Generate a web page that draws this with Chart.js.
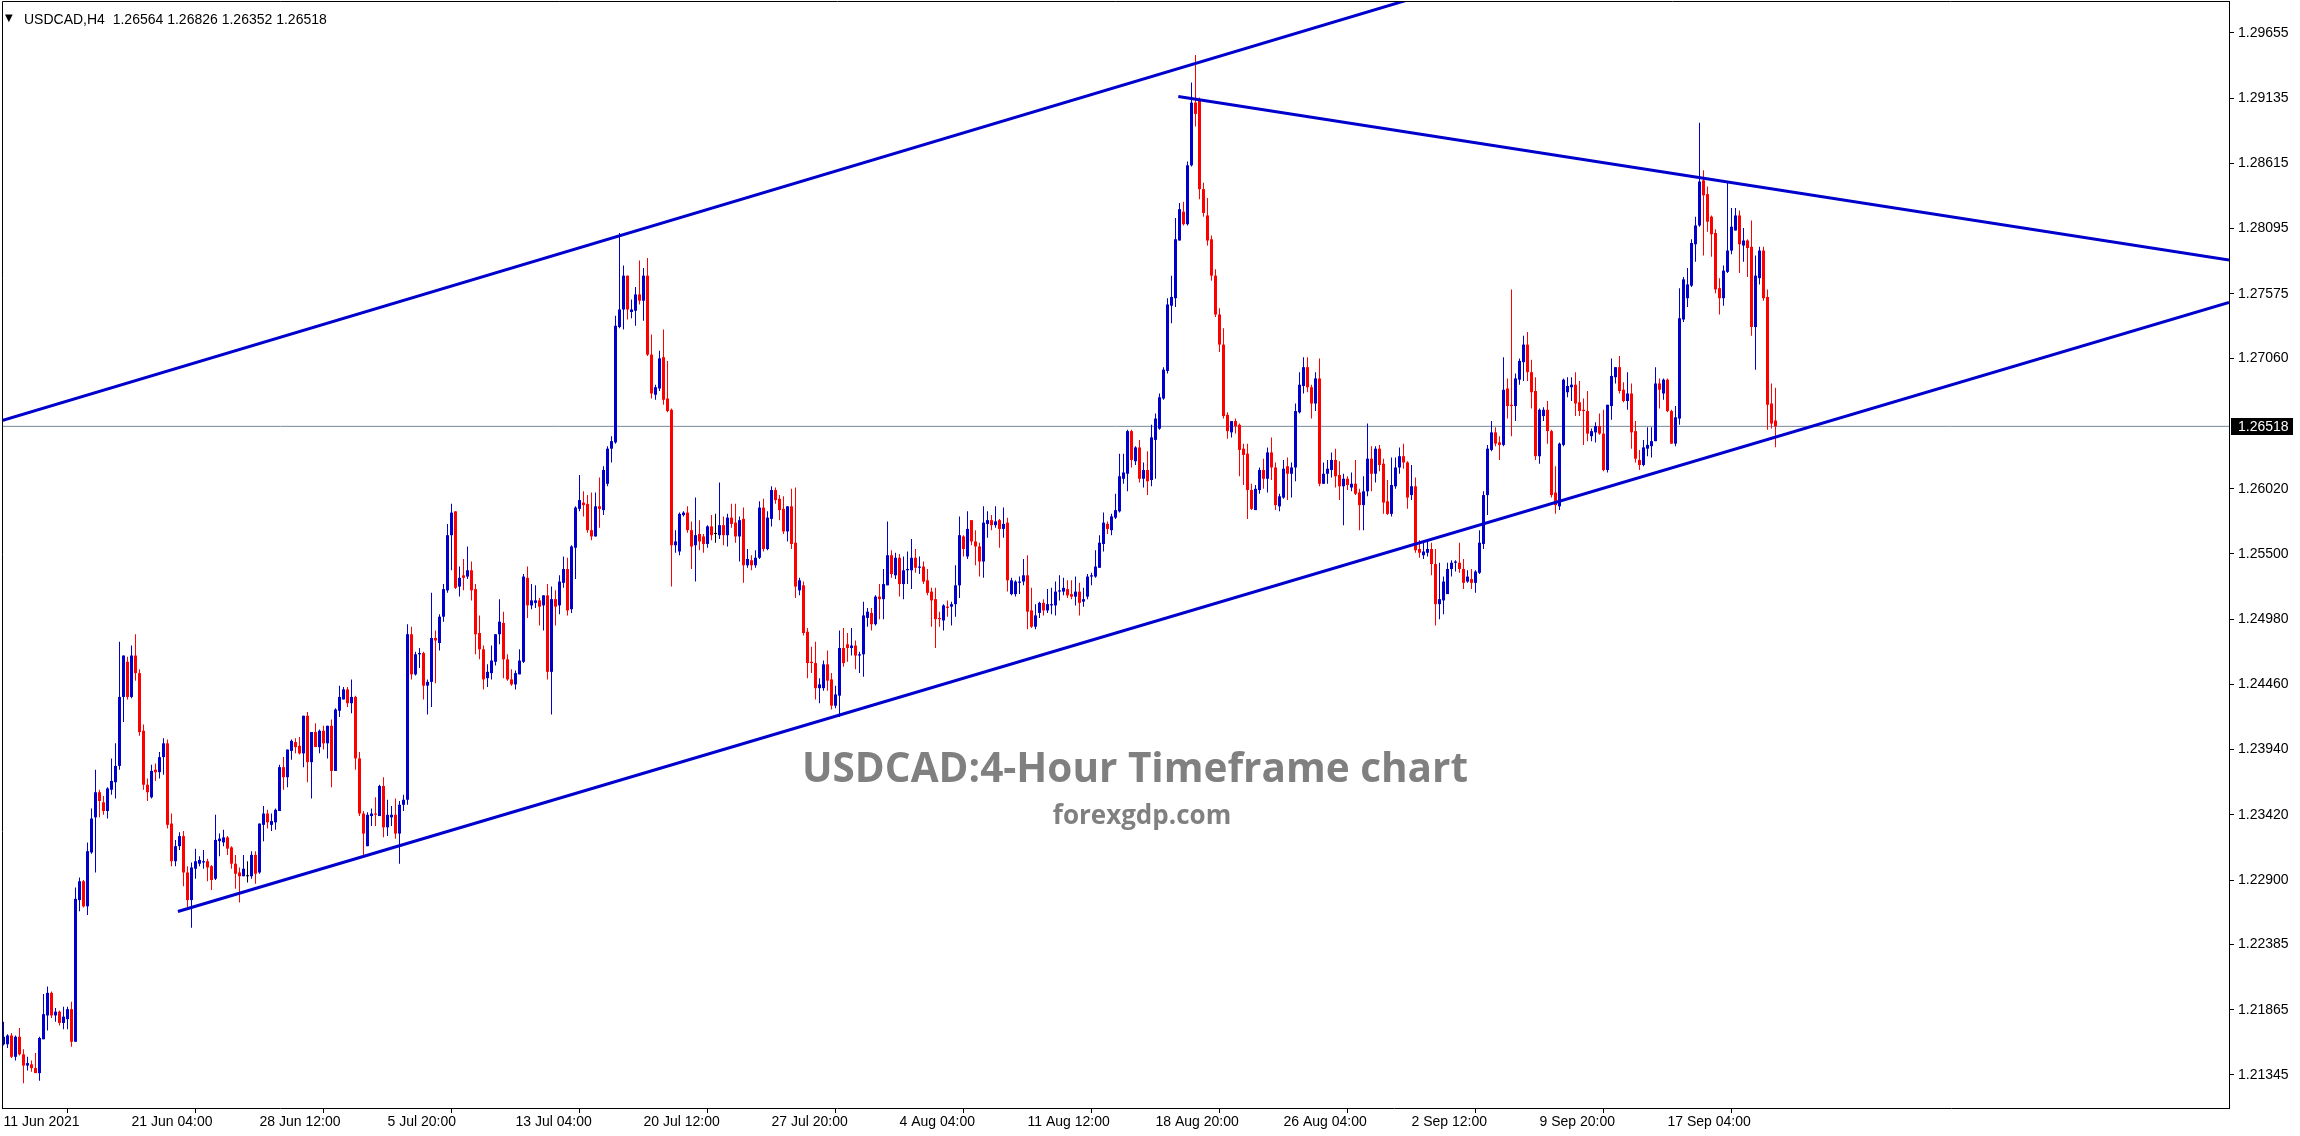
<!DOCTYPE html>
<html>
<head>
<meta charset="utf-8">
<script src="https://cdn.jsdelivr.net/npm/chart.js@4/dist/chart.umd.min.js"></script>
<style>
html,body{margin:0;padding:0;background:#fff;}
#wrap{position:relative;width:2300px;height:1136px;}
canvas{display:block;}
</style>
</head>
<body>
<div id="wrap"><canvas id="c" width="2300" height="1136"></canvas></div>
<script>
// ---------- values (prices in pips, 1 pip = 0.0001) ----------
const PIP = 0.0001;
const symbolLabel = 'USDCAD,H4';

const candleOpen = [
12159,12159,12166,12149,12165,12151,12142,12143,12140,12136,
12163,12182,12200,12182,12185,12176,12179,12187,12161,12274,
12289,12269,12312,12340,12360,12352,12345,12362,12368,12381,
12436,12464,12436,12469,12455,12409,12366,12356,12378,12376,
12388,12399,12335,12305,12317,12325,12296,12274,12299,12303,
12304,12305,12301,12291,12321,12320,12324,12316,12303,12296,
12293,12293,12293,12310,12296,12334,12343,12334,12336,12345,
12380,12372,12393,12400,12397,12391,12421,12384,12408,12396,
12409,12399,12413,12377,12425,12434,12442,12431,12436,12387,
12343,12317,12341,12343,12341,12365,12332,12340,12342,12327,
12350,12354,12486,12454,12470,12471,12445,12448,12483,12479,
12500,12521,12565,12584,12524,12533,12532,12537,12522,12487,
12474,12451,12455,12464,12486,12495,12466,12450,12446,12454,
12464,12531,12509,12511,12513,12509,12517,12456,12514,12509,
12527,12538,12506,12555,12586,12591,12590,12569,12564,12588,
12585,12606,12634,12639,12731,12745,12772,12743,12744,12757,
12752,12772,12709,12677,12682,12707,12674,12665,12557,12552,
12581,12583,12569,12557,12566,12564,12558,12572,12566,12565,
12573,12565,12579,12575,12564,12578,12541,12545,12541,12547,
12587,12554,12578,12601,12594,12586,12568,12588,12559,12521,
12525,12488,12464,12463,12443,12443,12462,12450,12429,12437,
12475,12478,12475,12477,12469,12470,12499,12503,12494,12516,
12514,12525,12549,12533,12547,12526,12537,12537,12547,12539,
12540,12529,12520,12514,12499,12497,12508,12508,12510,12525,
12564,12548,12577,12560,12556,12544,12574,12577,12573,12577,
12570,12575,12518,12518,12527,12528,12533,12505,12492,12503,
12511,12505,12509,12509,12520,12520,12522,12518,12516,12520,
12512,12516,12532,12532,12539,12558,12574,12569,12579,12584,
12610,12614,12648,12624,12635,12610,12617,12609,12641,12650,
12674,12696,12748,12754,12800,12823,12813,12860,12910,12912,
12841,12820,12801,12772,12741,12717,12661,12647,12656,12653,
12634,12630,12601,12585,12601,12617,12610,12631,12619,12588,
12595,12620,12614,12619,12663,12684,12699,12683,12670,12690,
12606,12614,12617,12625,12613,12604,12610,12603,12606,12599,
12589,12600,12626,12614,12634,12622,12592,12582,12604,12619,
12628,12623,12597,12604,12554,12549,12551,12554,12542,12510,
12513,12518,12538,12543,12543,12538,12528,12530,12527,12535,
12558,12597,12633,12647,12639,12637,12682,12669,12668,12689,
12703,12717,12695,12680,12628,12660,12665,12648,12599,12588,
12637,12679,12683,12685,12671,12665,12664,12644,12647,12652,
12646,12617,12668,12691,12699,12681,12672,12678,12648,12625,
12621,12634,12636,12640,12686,12678,12689,12664,12638,12658,
12737,12754,12764,12797,12812,12848,12837,12819,12806,12762,
12754,12775,12792,12808,12820,12796,12800,12795,12731,12770,
12792,12755,12670,12656.4
];

const candleHigh = [
12177,12167,12168,12166,12172,12155,12149,12146,12152,12165,
12199,12205,12201,12188,12186,12189,12189,12193,12284,12292,
12290,12320,12347,12378,12362,12357,12364,12387,12399,12480,
12469,12468,12477,12486,12458,12414,12371,12382,12383,12392,
12403,12402,12343,12322,12328,12329,12301,12304,12315,12309,
12314,12307,12302,12342,12327,12330,12325,12317,12310,12300,
12310,12305,12313,12313,12335,12349,12346,12343,12347,12382,
12388,12394,12402,12403,12404,12421,12424,12408,12415,12410,
12413,12413,12418,12427,12445,12444,12444,12450,12437,12392,
12345,12344,12347,12356,12366,12372,12354,12349,12355,12353,
12358,12494,12492,12472,12475,12472,12450,12519,12489,12502,
12526,12574,12590,12584,12540,12546,12556,12544,12526,12501,
12477,12462,12477,12486,12514,12504,12470,12458,12457,12474,
12534,12540,12526,12525,12515,12517,12526,12524,12521,12533,
12548,12547,12557,12588,12613,12600,12597,12599,12599,12611,
12620,12636,12644,12740,12806,12780,12772,12753,12763,12784,
12778,12786,12725,12685,12712,12729,12704,12666,12569,12583,
12584,12588,12576,12595,12577,12566,12573,12581,12582,12607,
12580,12582,12590,12590,12580,12587,12554,12549,12553,12592,
12594,12584,12604,12603,12597,12596,12588,12602,12603,12531,
12528,12491,12476,12480,12451,12465,12473,12455,12445,12489,
12491,12487,12491,12481,12472,12512,12507,12507,12517,12526,
12538,12576,12553,12551,12550,12548,12552,12562,12554,12548,
12544,12538,12523,12523,12504,12510,12513,12512,12541,12580,
12565,12584,12577,12569,12559,12588,12584,12581,12588,12578,
12587,12579,12531,12529,12532,12546,12549,12523,12510,12512,
12514,12522,12523,12528,12533,12531,12529,12529,12532,12527,
12523,12534,12535,12553,12565,12583,12576,12582,12598,12630,
12630,12649,12649,12636,12641,12623,12632,12653,12662,12678,
12699,12754,12772,12818,12830,12831,12863,12926,12948,12914,
12846,12834,12804,12777,12746,12730,12663,12656,12658,12654,
12638,12638,12606,12605,12619,12626,12635,12643,12623,12598,
12625,12627,12623,12670,12695,12707,12707,12685,12695,12706,
12623,12625,12631,12634,12624,12614,12612,12615,12625,12602,
12612,12654,12636,12636,12637,12626,12609,12627,12627,12635,
12638,12624,12621,12611,12561,12559,12561,12559,12554,12543,
12532,12543,12545,12545,12559,12546,12537,12538,12537,12569,
12600,12637,12656,12651,12644,12707,12690,12761,12694,12706,
12724,12727,12705,12691,12666,12667,12672,12649,12620,12639,
12690,12691,12691,12695,12688,12674,12680,12650,12655,12662,
12665,12669,12706,12699,12708,12687,12695,12686,12656,12633,
12641,12651,12651,12699,12690,12690,12690,12665,12668,12762,
12771,12778,12801,12819,12894,12856,12843,12820,12809,12770,
12780,12847,12826,12826,12824,12810,12801,12816,12788,12795,
12795,12761,12686,12682.6
];

const candleLow = [
12158,12156,12148,12146,12150,12128,12138,12137,12136,12130,
12163,12170,12180,12177,12174,12171,12171,12157,12161,12265,
12268,12262,12311,12296,12340,12342,12339,12358,12355,12378,
12416,12434,12435,12449,12405,12362,12353,12355,12369,12371,
12374,12331,12301,12301,12314,12285,12267,12252,12291,12301,
12299,12289,12282,12290,12309,12317,12310,12299,12283,12272,
12293,12288,12291,12287,12295,12321,12331,12329,12330,12345,
12362,12364,12386,12391,12390,12380,12368,12355,12396,12391,
12394,12387,12364,12377,12420,12434,12428,12423,12378,12341,
12309,12317,12333,12333,12341,12324,12325,12333,12323,12303,
12345,12350,12450,12453,12459,12434,12422,12428,12447,12473,
12496,12519,12537,12522,12516,12521,12530,12513,12470,12466,
12442,12444,12450,12461,12478,12451,12449,12445,12442,12454,
12463,12499,12506,12507,12493,12489,12450,12422,12493,12502,
12523,12501,12503,12530,12584,12580,12567,12561,12564,12571,
12581,12604,12623,12638,12730,12729,12737,12738,12732,12749,
12736,12708,12674,12673,12680,12669,12663,12524,12551,12549,
12580,12567,12538,12528,12553,12551,12555,12561,12559,12562,
12557,12556,12571,12559,12544,12527,12539,12537,12539,12546,
12552,12553,12572,12590,12577,12566,12560,12554,12515,12517,
12485,12451,12455,12434,12431,12441,12441,12426,12427,12420,
12460,12464,12469,12458,12455,12452,12492,12489,12493,12498,
12498,12525,12531,12530,12516,12514,12526,12522,12535,12534,
12526,12517,12492,12475,12492,12489,12500,12493,12500,12515,
12548,12546,12557,12541,12532,12531,12563,12569,12571,12555,
12563,12520,12517,12516,12518,12525,12490,12491,12490,12499,
12501,12503,12502,12501,12513,12517,12515,12514,12509,12501,
12508,12514,12525,12531,12539,12552,12566,12565,12578,12583,
12606,12600,12619,12621,12607,12603,12597,12604,12610,12649,
12673,12694,12734,12747,12800,12812,12812,12859,12891,12833,
12819,12796,12768,12739,12711,12658,12642,12643,12646,12612,
12605,12578,12585,12585,12598,12602,12599,12609,12585,12584,
12594,12593,12595,12608,12662,12678,12679,12658,12664,12604,
12606,12606,12611,12603,12593,12573,12601,12600,12597,12569,
12569,12596,12600,12607,12616,12582,12581,12580,12602,12614,
12618,12586,12593,12551,12547,12546,12548,12533,12493,12498,
12502,12518,12532,12536,12535,12522,12527,12522,12519,12534,
12554,12581,12632,12636,12625,12636,12658,12644,12656,12685,
12688,12688,12666,12625,12622,12656,12638,12595,12582,12585,
12636,12675,12672,12660,12660,12637,12640,12640,12639,12645,
12616,12615,12657,12686,12678,12671,12665,12634,12623,12617,
12620,12628,12627,12640,12666,12673,12663,12638,12636,12653,
12735,12747,12763,12783,12811,12788,12807,12787,12758,12741,
12748,12774,12789,12808,12774,12783,12771,12724,12697,12765,
12752,12649,12650,12635.2
];

const candleClose = [
12165,12166,12149,12165,12151,12142,12144,12140,12136,12164,
12183,12200,12182,12185,12176,12181,12187,12161,12275,12289,
12269,12313,12339,12360,12353,12345,12363,12369,12381,12436,
12469,12436,12469,12455,12408,12366,12360,12377,12376,12388,
12399,12334,12305,12317,12325,12296,12274,12300,12305,12306,
12305,12300,12290,12322,12323,12324,12315,12303,12295,12293,
12299,12293,12310,12295,12335,12343,12336,12337,12346,12380,
12372,12394,12401,12396,12391,12421,12384,12408,12396,12409,
12399,12413,12377,12426,12436,12442,12431,12436,12387,12343,
12327,12342,12343,12342,12365,12332,12342,12342,12327,12350,
12354,12486,12454,12470,12471,12445,12448,12483,12481,12500,
12522,12565,12583,12523,12531,12531,12537,12521,12486,12474,
12450,12456,12465,12486,12496,12466,12450,12446,12455,12465,
12532,12509,12513,12513,12508,12517,12456,12514,12508,12528,
12538,12505,12556,12587,12593,12589,12569,12564,12588,12586,
12617,12634,12640,12732,12745,12772,12745,12745,12757,12752,
12772,12709,12678,12683,12706,12673,12664,12557,12560,12582,
12583,12569,12556,12565,12560,12558,12572,12565,12566,12573,
12565,12579,12574,12564,12577,12541,12546,12541,12547,12587,
12554,12579,12601,12593,12585,12568,12588,12558,12524,12529,
12487,12463,12463,12443,12446,12462,12449,12429,12438,12475,
12463,12475,12477,12469,12470,12501,12504,12494,12516,12514,
12526,12549,12534,12547,12526,12537,12538,12547,12539,12540,
12528,12519,12513,12498,12498,12509,12507,12510,12525,12565,
12554,12570,12560,12556,12544,12575,12577,12573,12576,12570,
12574,12529,12529,12528,12528,12533,12504,12492,12501,12511,
12505,12510,12510,12520,12521,12523,12517,12516,12520,12511,
12514,12532,12533,12540,12559,12575,12570,12580,12585,12612,
12615,12648,12625,12635,12610,12617,12608,12643,12658,12675,
12697,12749,12755,12801,12825,12813,12860,12910,12901,12841,
12822,12800,12772,12741,12717,12660,12648,12656,12652,12633,
12629,12601,12586,12602,12617,12610,12631,12619,12589,12596,
12618,12614,12619,12664,12685,12699,12683,12670,12690,12606,
12614,12618,12625,12612,12604,12610,12605,12606,12598,12589,
12600,12626,12614,12634,12621,12591,12582,12605,12619,12628,
12623,12595,12604,12553,12551,12552,12554,12542,12510,12514,
12528,12538,12543,12544,12538,12527,12532,12527,12536,12559,
12597,12634,12647,12638,12637,12681,12668,12668,12690,12704,
12717,12695,12679,12628,12665,12665,12648,12597,12589,12638,
12689,12684,12685,12670,12664,12664,12646,12648,12652,12646,
12617,12669,12692,12699,12680,12672,12678,12647,12626,12621,
12635,12637,12640,12686,12681,12689,12664,12638,12659,12738,
12769,12765,12798,12812,12847,12836,12815,12805,12761,12754,
12776,12792,12811,12820,12797,12800,12794,12731,12772,12792,
12754,12669,12654,12651.8
];

// time axis labels (bar index where each label sits)
const xTickIdx = [0,32,64,96,128,160,192,224,256,288,320,352,384,416];
const xTickLabels = ['11 Jun 2021','21 Jun 04:00','28 Jun 12:00','5 Jul 20:00','13 Jul 04:00',
  '20 Jul 12:00','27 Jul 20:00','4 Aug 04:00','11 Aug 12:00','18 Aug 20:00','26 Aug 04:00',
  '2 Sep 12:00','9 Sep 20:00','17 Sep 04:00'];

// price axis labels
const yTickValues = [1.29655,1.29135,1.28615,1.28095,1.27575,1.27060,1.26020,1.25500,
  1.24980,1.24460,1.23940,1.23420,1.22900,1.22385,1.21865,1.21345];

const bidPrice = 1.26518;

// drawn trend lines: [barIndex, price in pips]
const upperChannel = [[-0.375, 12656.5],[380, 13019.5]];
const lowerChannel = [[43.6, 12264.9],[556.375, 12750.6]];
const fallingLine  = [[293.7, 12914.8],[556.375, 12784.5]];

const watermarkTitle = 'USDCAD:4-Hour Timeframe chart';
const watermarkSite = 'forexgdp.com';

// ---------- view ----------
const X_MIN = -0.375, X_MAX = 556.375;
const Y_MIN = 1.210817, Y_MAX = 1.299102;
const BULL = '#0000CD', BEAR = '#FF0000', DOJI = '#000000';
const AXIS_FONT = {family: 'Liberation Sans', size: 14};

const n = candleClose.length;
if ([candleOpen.length, candleHigh.length, candleLow.length].some(l => l !== n)) {
  throw new Error('length mismatch ' + [candleOpen.length, candleHigh.length, candleLow.length, n].join(','));
}
const idx = candleClose.map((_, i) => i);
const colors = idx.map(i => candleClose[i] > candleOpen[i] ? BULL : (candleClose[i] < candleOpen[i] ? BEAR : DOJI));
const wickData = idx.map(i => ({x: i, y: [Math.min(candleLow[i], candleOpen[i], candleClose[i]) * PIP,
                                          Math.max(candleHigh[i], candleOpen[i], candleClose[i]) * PIP]}));
const bodyData = idx.map(i => ({x: i, y: [candleOpen[i] * PIP, candleClose[i] * PIP]}));
const toPts = arr => arr.map(p => ({x: p[0], y: p[1] * PIP}));

const decorPlugin = {
  id: 'decor',
  beforeDraw(chart) {
    const ctx = chart.ctx;
    ctx.save();
    ctx.fillStyle = '#fff';
    ctx.fillRect(0, 0, chart.width, chart.height);
    ctx.restore();
  },
  beforeDatasetsDraw(chart) {
    const ctx = chart.ctx;
    ctx.save();
    ctx.fillStyle = '#808080';
    ctx.textAlign = 'center';
    ctx.textBaseline = 'alphabetic';
    ctx.font = 'bold 40.5px "Open Sans"';
    ctx.fillText(watermarkTitle, 1135, 782);
    ctx.font = 'bold 26px "Open Sans"';
    ctx.fillText(watermarkSite, 1142, 824);
    ctx.restore();
  },
  afterDraw(chart) {
    const ctx = chart.ctx;
    const a = chart.chartArea;
    ctx.save();
    // frame
    ctx.strokeStyle = '#000';
    ctx.lineWidth = 1;
    ctx.beginPath();
    ctx.moveTo(a.left + 0.5, a.bottom);
    ctx.lineTo(a.left + 0.5, a.top + 0.5);
    ctx.lineTo(a.right, a.top + 0.5);
    ctx.stroke();
    // header text
    ctx.fillStyle = '#000';
    ctx.textBaseline = 'alphabetic';
    ctx.textAlign = 'left';
    ctx.font = '10px "DejaVu Sans"';
    ctx.fillText('\u25BC', 5, 21);
    ctx.font = '14px "Liberation Sans"';
    const last = n - 1;
    const hdr = symbolLabel + '  ' + [candleOpen[last], candleHigh[last], candleLow[last], candleClose[last]]
      .map(v => (v * PIP).toFixed(5)).join(' ');
    ctx.fillText(hdr, 24, 24);
    // bid price label
    const yb = chart.scales.y.getPixelForValue(bidPrice);
    ctx.fillStyle = '#000';
    ctx.fillRect(a.right + 2, Math.round(yb) - 8, 62, 17);
    ctx.fillStyle = '#fff';
    ctx.textBaseline = 'middle';
    ctx.font = '14px "Liberation Sans"';
    ctx.fillText(bidPrice.toFixed(5), a.right + 9, Math.round(yb) + 1);
    ctx.restore();
  }
};

new Chart(document.getElementById('c'), {
  type: 'bar',
  data: {
    datasets: [
      {type: 'line', data: toPts(upperChannel), borderColor: BULL, borderWidth: 3, pointRadius: 0, fill: false, clip: 0, order: 0},
      {type: 'line', data: toPts(lowerChannel), borderColor: BULL, borderWidth: 3, pointRadius: 0, fill: false, clip: 0, order: 0},
      {type: 'line', data: toPts(fallingLine), borderColor: BULL, borderWidth: 3, pointRadius: 0, fill: false, clip: 0, order: 0},
      {type: 'bar', data: bodyData, backgroundColor: colors, barThickness: 3, minBarLength: 1, grouped: false,
       borderWidth: 0, inflateAmount: 0, order: 1},
      {type: 'bar', data: wickData, backgroundColor: colors, barThickness: 1, minBarLength: 1, grouped: false,
       borderWidth: 0, inflateAmount: 0, order: 2},
      {type: 'line', data: [{x: X_MIN, y: bidPrice}, {x: X_MAX, y: bidPrice}], borderColor: '#778899',
       borderWidth: 1, pointRadius: 0, fill: false, clip: 0, order: 3}
    ]
  },
  options: {
    responsive: false,
    animation: false,
    devicePixelRatio: 1,
    events: [],
    layout: {padding: {left: 2, top: 1, right: 0, bottom: 0}},
    plugins: {legend: {display: false}, tooltip: {enabled: false}, title: {display: false}},
    scales: {
      x: {
        type: 'linear', min: X_MIN, max: X_MAX, offset: false,
        afterBuildTicks: s => { s.ticks = xTickIdx.map(v => ({value: v})); },
        afterFit: s => { s.height = 28; s.paddingLeft = 0; s.paddingRight = 0; },
        ticks: {autoSkip: false, maxRotation: 0, minRotation: 0, align: 'start', padding: 1,
                color: '#000', font: AXIS_FONT, callback: (v, i) => xTickLabels[i]},
        grid: {drawOnChartArea: false, drawTicks: true, tickLength: 5, color: '#000'},
        border: {display: true, color: '#000', width: 1}
      },
      y: {
        position: 'right', min: Y_MIN, max: Y_MAX,
        afterBuildTicks: s => { s.ticks = yTickValues.map(v => ({value: v})); },
        afterFit: s => { s.width = 71; s.paddingTop = 0; s.paddingBottom = 0; },
        ticks: {autoSkip: false, padding: 4, color: '#000', font: AXIS_FONT, callback: v => v.toFixed(5)},
        grid: {drawOnChartArea: false, drawTicks: true, tickLength: 5, color: '#000'},
        border: {display: true, color: '#000', width: 1}
      }
    }
  },
  plugins: [decorPlugin]
});
</script>
</body>
</html>
